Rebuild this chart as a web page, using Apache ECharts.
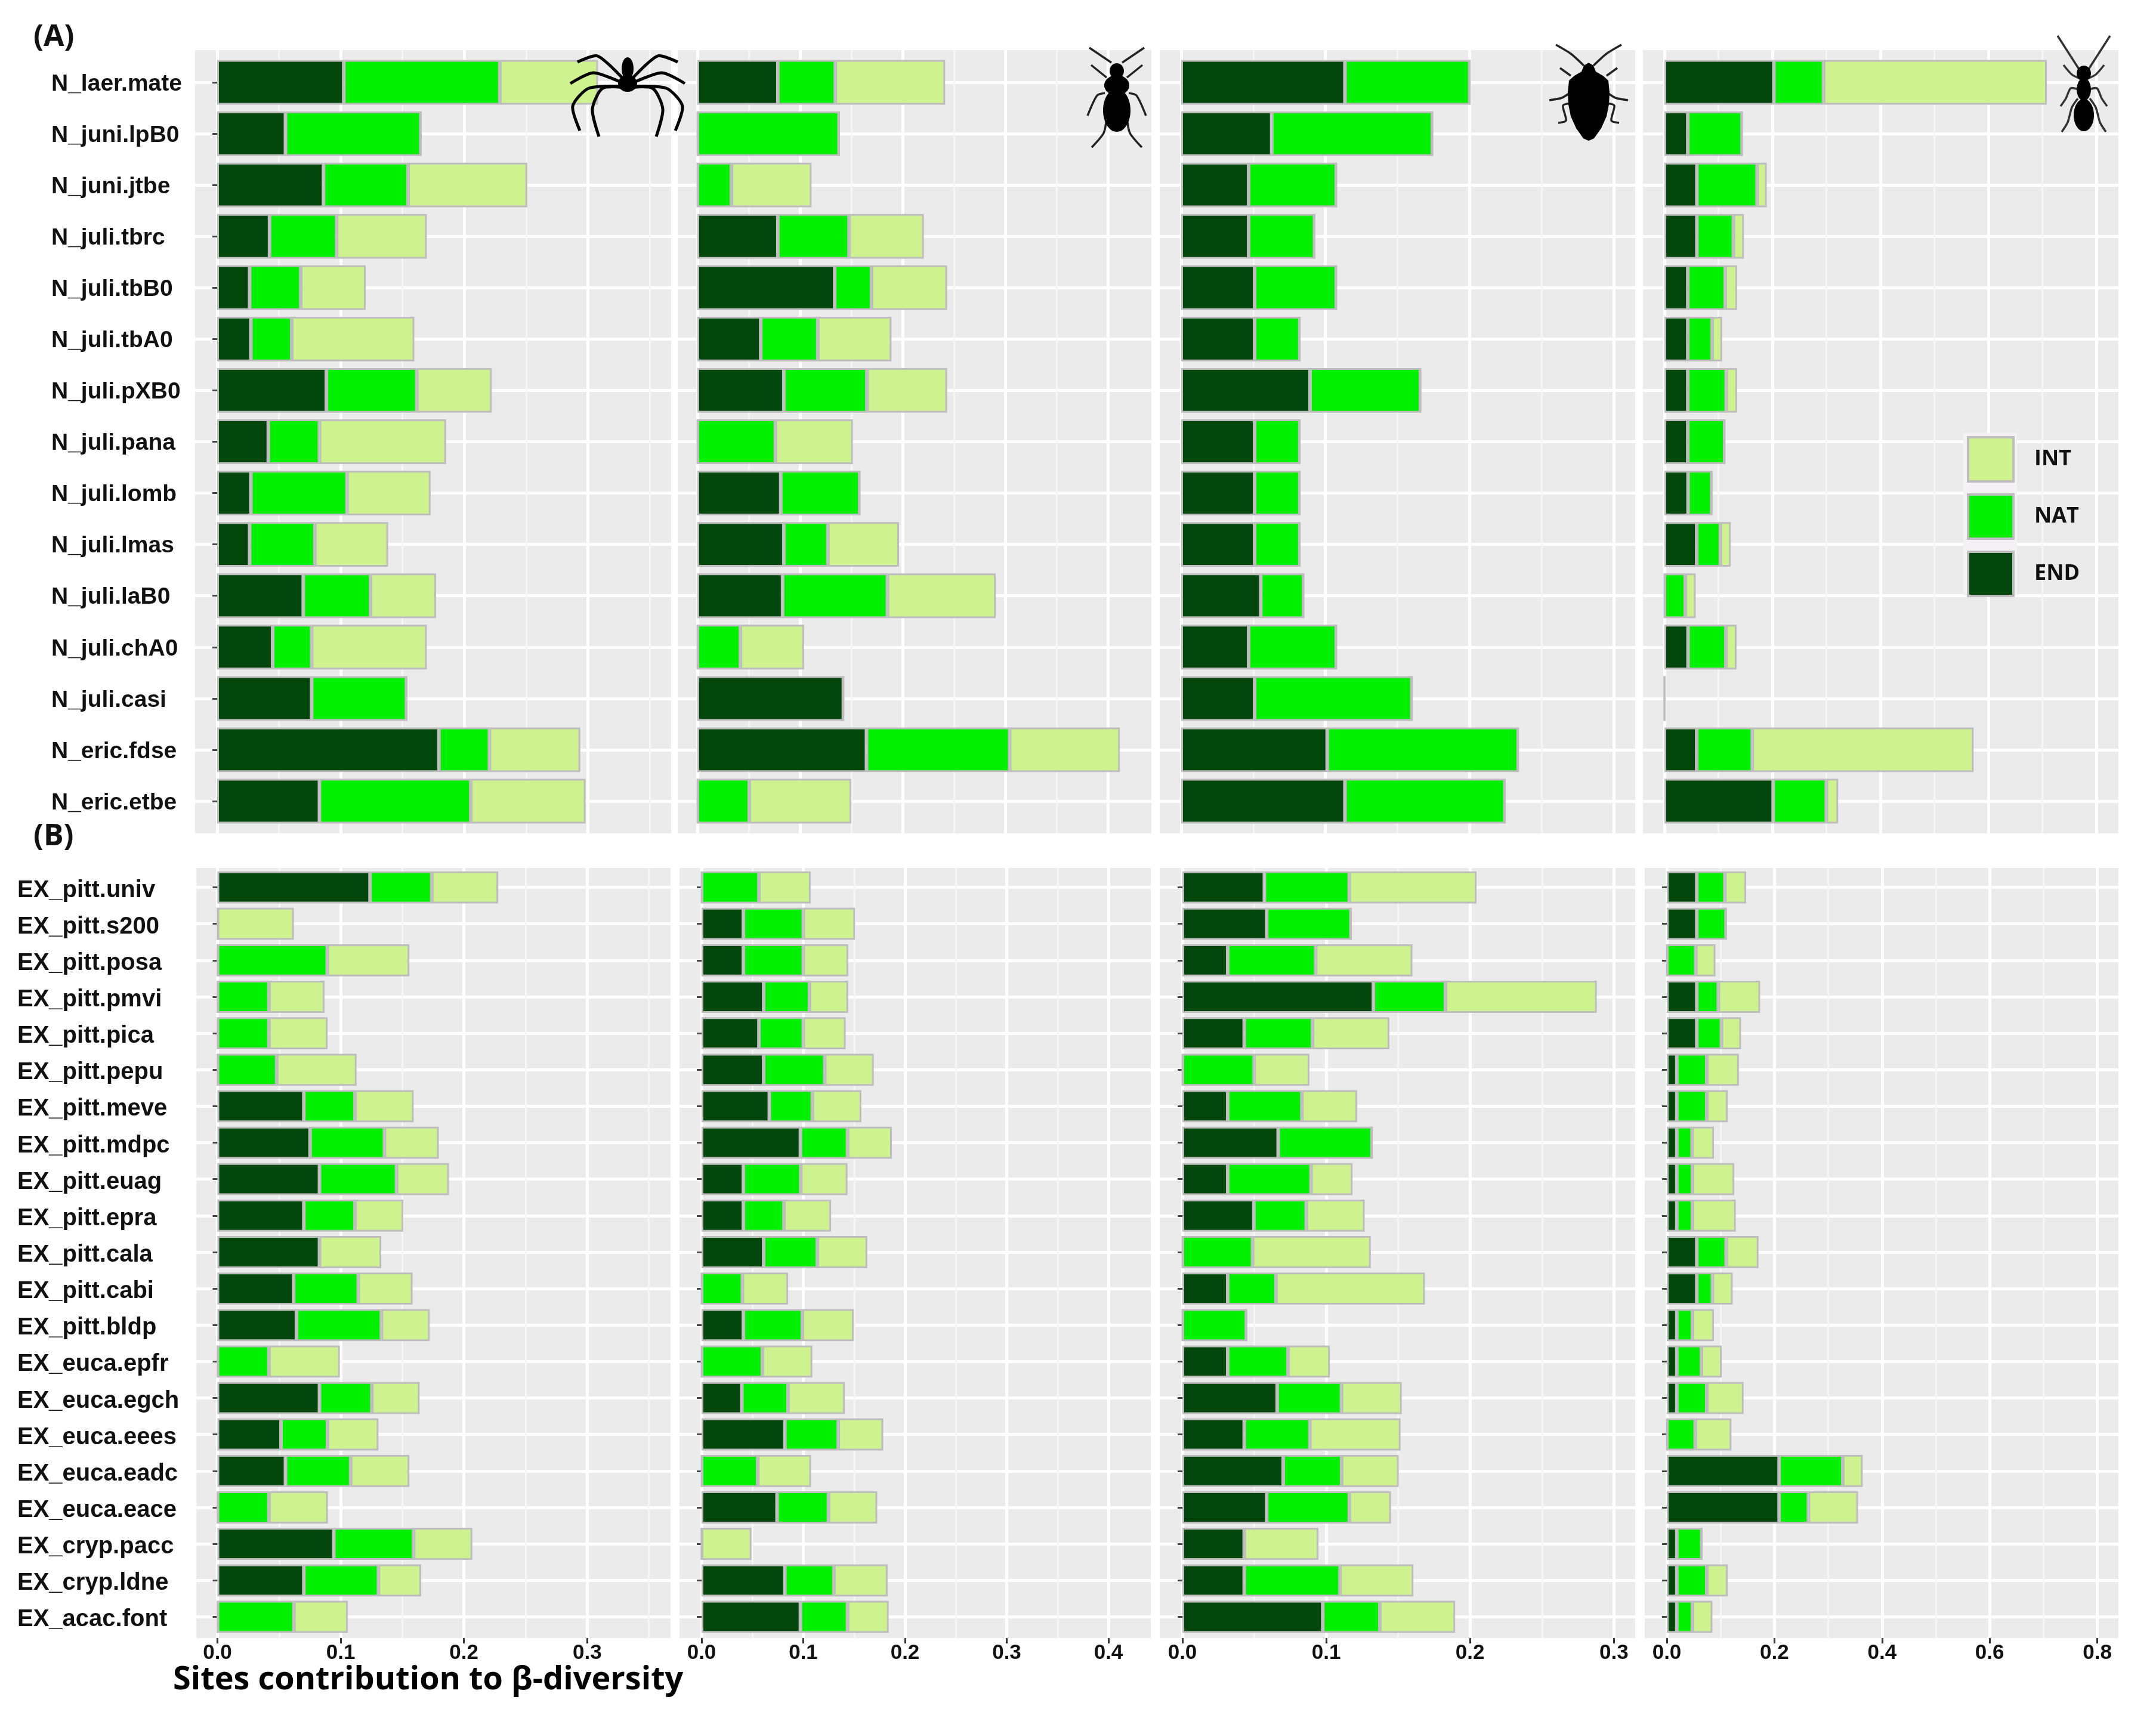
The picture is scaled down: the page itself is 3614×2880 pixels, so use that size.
<!DOCTYPE html>
<html lang="en">
  <head>
    <meta charset="UTF-8" />
    <title>Sites contribution to beta diversity</title>
    <style>
      body {
        margin: 0;
        background: #fff;
      }
      #chart {
        width: 3614px;
        height: 2880px;
      }
    </style>
    <script src="https://cdn.jsdelivr.net/npm/echarts@6/dist/echarts.min.js"></script>
  </head>

  <body>
    <div id="chart"></div>
    <script>
      // 分类
      var sitesA = ["N_laer.mate", "N_juni.lpB0", "N_juni.jtbe", "N_juli.tbrc", "N_juli.tbB0", "N_juli.tbA0", "N_juli.pXB0", "N_juli.pana", "N_juli.lomb", "N_juli.lmas", "N_juli.laB0", "N_juli.chA0", "N_juli.casi", "N_eric.fdse", "N_eric.etbe"];
      var sitesB = ["EX_pitt.univ", "EX_pitt.s200", "EX_pitt.posa", "EX_pitt.pmvi", "EX_pitt.pica", "EX_pitt.pepu", "EX_pitt.meve", "EX_pitt.mdpc", "EX_pitt.euag", "EX_pitt.epra", "EX_pitt.cala", "EX_pitt.cabi", "EX_pitt.bldp", "EX_euca.epfr", "EX_euca.egch", "EX_euca.eees", "EX_euca.eadc", "EX_euca.eace", "EX_cryp.pacc", "EX_cryp.ldne", "EX_acac.font"];

      // (A) 上排
      var a1End = [0.1025, 0.0553, 0.0861, 0.0424, 0.0263, 0.0273, 0.0884, 0.0414, 0.0273, 0.0263, 0.0697, 0.0449, 0.0765, 0.1795, 0.0828];
      var a1Nat = [0.1263, 0.1096, 0.0684, 0.0543, 0.0414, 0.0331, 0.0732, 0.0414, 0.0778, 0.0528, 0.0545, 0.0316, 0.0768, 0.0409, 0.1225];
      var a1Int = [0.0795, 0, 0.0965, 0.073, 0.0525, 0.0992, 0.0606, 0.1025, 0.0677, 0.0593, 0.053, 0.0932, 0, 0.0735, 0.0929];

      var a2End = [0.0784, 0, 0, 0.0784, 0.1337, 0.0617, 0.0842, 0, 0.0812, 0.0842, 0.083, 0, 0.1422, 0.1647, 0];
      var a2Nat = [0.0559, 0.138, 0.0331, 0.0693, 0.0359, 0.0556, 0.0809, 0.076, 0.0769, 0.0429, 0.1021, 0.0419, 0, 0.1395, 0.0505];
      var a2Int = [0.107, 0, 0.0781, 0.0729, 0.0736, 0.0717, 0.0781, 0.0754, 0, 0.0693, 0.1055, 0.062, 0, 0.1073, 0.0994];

      var a3End = [0.1136, 0.0628, 0.0468, 0.0468, 0.0509, 0.0509, 0.0894, 0.0509, 0.0509, 0.0509, 0.0552, 0.0468, 0.0509, 0.1013, 0.1136];
      var a3Nat = [0.0866, 0.1115, 0.0608, 0.0457, 0.0567, 0.0314, 0.0766, 0.0314, 0.0314, 0.0314, 0.0297, 0.0608, 0.1091, 0.1325, 0.111];
      var a3Int = [0, 0, 0, 0, 0, 0, 0, 0, 0, 0, 0, 0, 0, 0, 0];

      var a4End = [0.2028, 0.0433, 0.0601, 0.0601, 0.0433, 0.0433, 0.0433, 0.0433, 0.0438, 0.0598, 0, 0.0438, 0, 0.0598, 0.2014];
      var a4Nat = [0.0919, 0.1005, 0.1115, 0.0676, 0.0693, 0.0451, 0.0711, 0.0682, 0.0438, 0.0438, 0.0386, 0.0701, 0, 0.103, 0.0985];
      var a4Int = [0.4136, 0, 0.0179, 0.0196, 0.022, 0.0185, 0.0202, 0, 0, 0.0193, 0.0193, 0.0199, 0, 0.4099, 0.0219];

      // (B) 下排
      var b1End = [0.1238, 0, 0, 0, 0, 0, 0.0701, 0.0752, 0.0828, 0.0701, 0.0828, 0.0618, 0.0641, 0, 0.0828, 0.0516, 0.0552, 0, 0.0944, 0.0701, 0];
      var b1Nat = [0.0501, 0, 0.0891, 0.0418, 0.0418, 0.0481, 0.0415, 0.0603, 0.0625, 0.0415, 0, 0.0524, 0.0689, 0.0418, 0.0425, 0.0377, 0.0529, 0.0418, 0.0648, 0.0605, 0.062];
      var b1Int = [0.0539, 0.062, 0.0666, 0.0451, 0.0476, 0.0648, 0.0476, 0.0441, 0.0425, 0.0392, 0.0501, 0.0441, 0.0392, 0.0575, 0.0387, 0.0413, 0.0476, 0.0478, 0.0476, 0.0347, 0.0438];

      var b2End = [0, 0.0411, 0.0411, 0.061, 0.0564, 0.061, 0.0666, 0.0972, 0.0411, 0.0411, 0.061, 0, 0.0411, 0, 0.0396, 0.0819, 0, 0.0742, 0, 0.0819, 0.0972];
      var b2Nat = [0.0564, 0.0589, 0.0589, 0.0451, 0.0436, 0.0601, 0.0423, 0.0463, 0.0564, 0.0399, 0.0528, 0.0402, 0.058, 0.0598, 0.0454, 0.0525, 0.0552, 0.0506, 0, 0.0482, 0.0463];
      var b2Int = [0.0509, 0.0509, 0.0442, 0.038, 0.0417, 0.0482, 0.0482, 0.0436, 0.046, 0.0463, 0.0491, 0.0448, 0.0506, 0.0491, 0.0558, 0.0442, 0.0525, 0.0479, 0.0491, 0.0528, 0.0405];

      var b3End = [0.057, 0.0586, 0.0315, 0.1328, 0.043, 0, 0.0315, 0.0666, 0.0315, 0.0497, 0, 0.0315, 0, 0.0315, 0.0659, 0.043, 0.0701, 0.0586, 0.043, 0.043, 0.0976];
      var b3Nat = [0.059, 0.0586, 0.0612, 0.0501, 0.0475, 0.0499, 0.0516, 0.0653, 0.0579, 0.0364, 0.0488, 0.0336, 0.0445, 0.0419, 0.0447, 0.0456, 0.0406, 0.0575, 0, 0.0666, 0.0397];
      var b3Int = [0.0885, 0, 0.0672, 0.1052, 0.0534, 0.0384, 0.0384, 0, 0.0289, 0.0406, 0.0822, 0.1035, 0, 0.0291, 0.0419, 0.0631, 0.0397, 0.0289, 0.0516, 0.051, 0.0523];

      var b4End = [0.0557, 0.0557, 0, 0.0557, 0.0557, 0.0186, 0.0186, 0.0186, 0.0186, 0.0186, 0.0557, 0.0557, 0.0186, 0.0186, 0.0186, 0, 0.2087, 0.2087, 0.0186, 0.0186, 0.0186];
      var b4Nat = [0.0522, 0.0545, 0.0539, 0.04, 0.0458, 0.0557, 0.0557, 0.0284, 0.029, 0.029, 0.0545, 0.029, 0.029, 0.0458, 0.0557, 0.0528, 0.1183, 0.0545, 0.0464, 0.0557, 0.029];
      var b4Int = [0.0394, 0, 0.0365, 0.0777, 0.0365, 0.0597, 0.0388, 0.0406, 0.0777, 0.0806, 0.0603, 0.0377, 0.04, 0.0377, 0.0684, 0.0672, 0.0371, 0.0922, 0, 0.0388, 0.0371];

      // 刻度
      var ticks03 = [0, 0.1, 0.2, 0.3];
      var ticks04 = [0, 0.1, 0.2, 0.3, 0.4];
      var ticks08 = [0, 0.2, 0.4, 0.6, 0.8];
      var minor005 = [0.05, 0.15, 0.25, 0.35, 0.45];
      var minor01 = [0.1, 0.3, 0.5, 0.7];

      var colorEnd = "#03470d";
      var colorNat = "#00f000";
      var colorInt = "#cff291";
      var barBorder = "#bdbdbd";
      var fontMain = "Liberation Sans";

      // left/right: 面板边界, zero: x=0的像素, k: 每单位像素
      var rowA = { top: 84, bottom: 1397, bandTop: 95, bandBottom: 1386, sites: sitesA, bar: "87%", fontSize: 39, labelLeft: 86, labelLine: 6 };
      var rowB = { top: 1455, bottom: 2746, bandTop: 1457, bandBottom: 2741, sites: sitesB, bar: "88%", fontSize: 40, labelLeft: 29, labelLine: 10 };

      var panels = [
        { row: rowA, left: 327, right: 1125, zero: 364, k: 2071, ticks: ticks03, minor: minor005, end: a1End, nat: a1Nat, int: a1Int, first: true },
        { row: rowA, left: 1136, right: 1930, zero: 1169, k: 1721, ticks: ticks04, minor: minor005, end: a2End, nat: a2Nat, int: a2Int },
        { row: rowA, left: 1944, right: 2741, zero: 1980, k: 2416, ticks: ticks03, minor: minor005, end: a3End, nat: a3Nat, int: a3Int },
        { row: rowA, left: 2754, right: 3551, zero: 2790, k: 905, ticks: ticks08, minor: minor01, end: a4End, nat: a4Nat, int: a4Int },
        { row: rowB, left: 329, right: 1124, zero: 364.5, k: 2066, ticks: ticks03, minor: minor005, end: b1End, nat: b1Nat, int: b1Int, first: true, xLabels: true },
        { row: rowB, left: 1139, right: 1929, zero: 1176, k: 1705, ticks: ticks04, minor: minor005, end: b2End, nat: b2Nat, int: b2Int, xLabels: true },
        { row: rowB, left: 1944, right: 2741, zero: 1982, k: 2411, ticks: ticks03, minor: minor005, end: b3End, nat: b3Nat, int: b3Int, xLabels: true },
        { row: rowB, left: 2757, right: 3551, zero: 2794, k: 902, ticks: ticks08, minor: minor01, end: b4End, nat: b4Nat, int: b4Int, xLabels: true },
      ];

      var grids = [];
      var xAxes = [];
      var yAxes = [];
      var series = [];

      panels.forEach(function (p, i) {
        var row = p.row;
        var isB = row === rowB;
        var xMin = (p.left - p.zero) / p.k;
        var xMax = (p.right - p.zero) / p.k;

        // 背景面板(灰底+竖向网格)
        var panelGrid = grids.length;
        grids.push({ left: p.left, top: row.top, width: p.right - p.left, height: row.bottom - row.top, show: true, backgroundColor: "#ebebeb", borderWidth: 0 });
        yAxes.push({ gridIndex: panelGrid, type: "value", show: false });
        xAxes.push({
          gridIndex: panelGrid,
          type: "value",
          position: "top",
          min: xMin,
          max: xMax,
          axisLine: { show: false },
          axisLabel: { show: false },
          axisTick: { show: false, customValues: p.minor },
          splitLine: { show: true, lineStyle: { color: "#f6f6f6", width: 3 } },
        });
        xAxes.push({
          gridIndex: panelGrid,
          type: "value",
          position: "bottom",
          min: xMin,
          max: xMax,
          axisLine: { show: false },
          axisLabel: {
            show: !!p.xLabels,
            customValues: p.ticks,
            margin: 8,
            color: "#111",
            fontFamily: fontMain,
            fontWeight: "bold",
            fontSize: 35,
            formatter: function (v) {
              return v.toFixed(1);
            },
          },
          axisTick: { show: !!p.xLabels, customValues: p.ticks, length: 9, lineStyle: { color: "#333", width: 3 } },
          splitLine: { show: true, lineStyle: { color: "#fff", width: 5 } },
        });

        // 数据层
        var dataGrid = grids.length;
        grids.push({ left: p.left, top: row.bandTop, width: p.right - p.left, height: row.bandBottom - row.bandTop });
        var dataX = xAxes.length;
        xAxes.push({ gridIndex: dataGrid, type: "value", show: false, min: xMin, max: xMax, splitLine: { show: false } });
        var dataY = yAxes.length;
        yAxes.push({
          gridIndex: dataGrid,
          type: "category",
          inverse: true,
          data: row.sites,
          axisLine: { show: false },
          axisTick: { show: p.first || isB, alignWithLabel: true, interval: 0, length: 8, lineStyle: { color: "#444", width: 3 } },
          axisLabel: {
            show: !!p.first,
            interval: 0,
            align: "left",
            verticalAlign: "top",
            lineHeight: row.labelLine,
            margin: p.left - row.labelLeft,
            color: "#111",
            fontFamily: fontMain,
            fontWeight: "bold",
            fontSize: row.fontSize,
          },
          splitLine: { show: true, alignWithLabel: true, interval: 0, lineStyle: { color: "#fff", width: 5 } },
        });

        [
          ["END", p.end, colorEnd],
          ["NAT", p.nat, colorNat],
          ["INT", p.int, colorInt],
        ].forEach(function (s) {
          series.push({
            name: s[0],
            type: "bar",
            stack: "panel" + i,
            xAxisIndex: dataX,
            yAxisIndex: dataY,
            barWidth: row.bar,
            data: s[1],
            itemStyle: { color: s[2], borderColor: barBorder, borderWidth: 3 },
            emphasis: { disabled: true },
          });
        });
      });

      // 昆虫剪影
      var iconZ = 50;
      function mirror(points) {
        return points.map(function (pt) {
          return [-pt[0], pt[1]];
        });
      }
      function legs(list, width, color) {
        var out = [];
        list.forEach(function (pts) {
          [pts, mirror(pts)].forEach(function (q) {
            out.push({ type: "polyline", z: iconZ, shape: { points: q, smooth: 0.25 }, style: { stroke: color || "#000", fill: null, lineWidth: width } });
          });
        });
        return out;
      }
      function oval(cx, cy, rx, ry) {
        return { type: "ellipse", z: iconZ, shape: { cx: cx, cy: cy, rx: rx, ry: ry }, style: { fill: "#000" } };
      }
      function insect(x, y, children) {
        return { type: "group", x: x, y: y, silent: true, children: children };
      }

      var spider = insect(1052, 135, legs([
        [[0, 5], [-50, -41], [-84, -31]],
        [[0, 8], [-57, -13], [-96, 5]],
        [[0, 10], [-65, 13], [-92, 43], [-80, 84]],
        [[0, 12], [-42, 13], [-59, 48], [-48, 94]],
      ], 5).concat([oval(0, -20, 10, 19), oval(0, 5, 16, 14)]));

      var beetle = insect(1872, 165, legs([
        [[-9, -60], [-46, -85]],
        [[-17, -35], [-43, -56]],
        [[-20, -9], [-33, -5], [-49, 29]],
        [[-17, 33], [-22, 58], [-42, 82]],
      ], 3.5, "#222").concat([oval(0, -46, 12, 13), oval(0, -22, 21, 17), oval(0, 20, 23, 36)]));

      var stinkBody = [[0, -60], [-8, -55], [-12, -45], [-24, -38], [-33, -30], [-35, -10], [-34, 10], [-30, 30], [-21, 50], [-9, 67], [0, 71]];
      var stinkBug = insect(2663, 165, legs([
        [[-8, -55], [-30, -75], [-55, -90]],
        [[-30, -38], [-48, -51]],
        [[-32, -9], [-45, -1], [-66, 3]],
        [[-30, 8], [-43, 12], [-38, 37], [-51, 41]],
      ], 3.5, "#222").concat([
        { type: "polygon", z: iconZ, shape: { points: stinkBody.concat(mirror(stinkBody).reverse()) }, style: { fill: "#000" } },
      ]));

      var ant = insect(3493, 140, legs([
        [[-8, -24], [-44, -80]],
        [[-6, -8], [-20, -15], [-34, -31]],
        [[-8, 10], [-22, 8], [-30, 25], [-39, 38]],
        [[-10, 25], [-20, 40], [-27, 65], [-37, 81]],
      ], 3.5, "#333").concat([oval(0, -17, 12, 13), oval(0, 10, 12, 19), oval(0, 53, 17, 27)]));

      // 图例底色
      var legendBack = { type: "rect", z: 3, silent: true, shape: { x: 3291, y: 726, width: 90, height: 272 }, style: { fill: "#f4f0f4" } };

      var option = {
        backgroundColor: "#fff",
        animation: false,
        title: [
          { text: "(A)", left: 56, top: 38, padding: 0, textStyle: { fontFamily: "Open Sans", fontWeight: "bold", fontSize: 50, color: "#111" } },
          { text: "(B)", left: 56, top: 1378, padding: 0, textStyle: { fontFamily: "Open Sans", fontWeight: "bold", fontSize: 50, color: "#111" } },
          { text: "Sites contribution to β-diversity", left: 290, top: 2790, padding: 0, textStyle: { fontFamily: "Open Sans", fontWeight: "bold", fontSize: 54, color: "#000" } },
        ],
        legend: {
          data: ["INT", "NAT", "END"],
          orient: "vertical",
          left: 3297,
          top: 731,
          padding: 0,
          selectedMode: false,
          icon: "rect",
          itemWidth: 76,
          itemHeight: 74,
          itemGap: 18,
          itemStyle: { borderColor: "#bdbdbd", borderWidth: 4 },
          textStyle: { fontFamily: "Open Sans", fontWeight: "bold", fontSize: 36, color: "#111", padding: [0, 0, 0, 30] },
        },
        graphic: [legendBack, spider, beetle, stinkBug, ant],
        grid: grids,
        xAxis: xAxes,
        yAxis: yAxes,
        series: series,
      };

      var myChart = echarts.init(document.getElementById("chart"));
      myChart.setOption(option);
    </script>
  </body>
</html>
